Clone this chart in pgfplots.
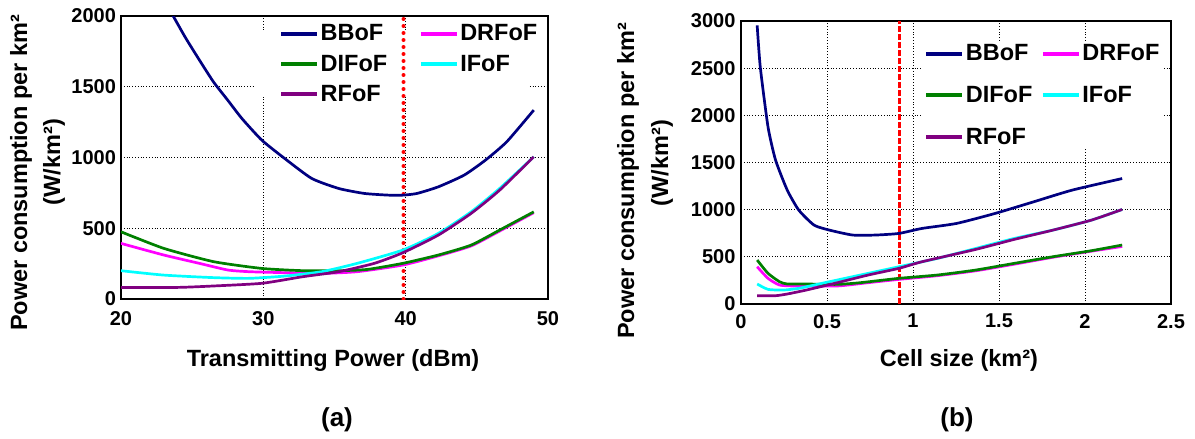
\documentclass[border=0pt]{standalone}
\usepackage{pgfplots}
\pgfplotsset{compat=1.18}
\usepackage{fontspec}
\setmainfont{Liberation Sans}
\definecolor{cBB}{RGB}{0,0,128}
\definecolor{cDR}{RGB}{255,0,255}
\definecolor{cDI}{RGB}{0,128,0}
\definecolor{cIF}{RGB}{0,255,255}
\definecolor{cRF}{RGB}{128,0,128}
\pgfplotsset{
  myaxis/.style={
    scale only axis, anchor=south west,
    axis line style={line width=1.6pt},
    grid=major, grid style={black, line width=0.8pt, dotted},
    major tick length=0pt,
    tick label style={font=\fontsize{20}{22}\selectfont\bfseries},
    /pgf/number format/assume math mode=true,
    /pgf/number format/1000 sep={},
    scaled ticks=false,
    legend columns=2,
    legend cell align=left,
    legend image code/.code={\draw[#1, line width=4pt] (0pt,0pt) -- (36pt,0pt);},
    every axis plot/.append style={line width=2.7pt, smooth, tension=0.35},
  }
}
\begin{document}
\begin{tikzpicture}
\useasboundingbox (0pt,0pt) rectangle (1195pt,-439pt);
% ---------- (a) ----------
\begin{axis}[myaxis, at={(121pt,-299pt)}, width=427pt, height=283pt,
  xmin=20, xmax=50, ymin=0, ymax=2000,
  xtick={20,30,40,50}, ytick={0,500,1000,1500,2000},
  xticklabel style={yshift=-9pt},
  yticklabel style={xshift=-1.5pt},
  legend style={at={(0.363,0.982)}, anchor=north west, draw=none, fill=none,
    font=\fontsize{23.5}{26}\selectfont\bfseries,
    nodes={inner sep=1.5pt}, row sep=9.5pt,
    /tikz/every even column/.append style={column sep=30pt}},
]
\fill[white] (axis cs:29.41,1435) rectangle (axis cs:48.7,1901);
\addplot[red, line width=4pt, line cap=round, dash pattern=on 0pt off 7pt, forget plot, sharp plot] coordinates {(39.85,0) (39.85,2000)};
\addplot[cBB] coordinates {(23.5,2030) (24.5,1852) (25.5,1690) (26.5,1534) (27.5,1405) (28.5,1275) (29.9,1122) (31.5,993) (33.4,852) (35.3,781) (37.1,746) (38.8,734) (39.8,734) (40.8,746) (42.3,793) (44.1,875) (45.6,981) (47.1,1111) (49,1335)};
\addlegendentry{BBoF}
\addplot[cDR] coordinates {(20,393) (23,311) (25.5,252) (27.5,205) (29,193) (31.5,186) (34.1,181) (36.6,193) (39.8,240) (42.3,305) (44.6,375) (46.6,480) (49,610)};
\addlegendentry{DRFoF}
\addplot[cDI] coordinates {(20,475) (23,358) (26.5,264) (29.9,216) (32.8,200) (35.3,200) (37.3,209) (39.8,252) (42.3,311) (44.6,381) (46.6,487) (49,616)};
\addlegendentry{DIFoF}
\addplot[cIF] coordinates {(20,200) (23,169) (26.5,151) (29,146) (31.5,162) (34.1,193) (36.6,252) (39.8,346) (42.3,464) (44.6,616) (46.6,781) (49,1005)};
\addlegendentry{IFoF}
\addplot[cRF] coordinates {(20,82) (24,82) (26.5,92) (29.9,111) (32.8,158) (35.3,193) (37.8,252) (39.8,327) (42.3,452) (44.6,605) (46.6,769) (49,1005)};
\addlegendentry{RFoF}
\end{axis}
% ---------- (b) ----------
\begin{axis}[myaxis, at={(741pt,-304pt)}, width=430pt, height=283pt,
  xmin=0, xmax=2.5, ymin=0, ymax=3000,
  xtick={0,0.5,1,1.5,2,2.5}, ytick={0,500,1000,1500,2000,2500,3000},
  xticklabel style={yshift=-6.5pt},
  yticklabel style={xshift=-2pt},
  legend style={at={(0.419,0.929)}, anchor=north west, draw=none, fill=white,
    font=\fontsize{23.5}{26}\selectfont\bfseries,
    nodes={inner sep=1.5pt}, row sep=21pt,
    /tikz/every even column/.append style={column sep=7pt}},
]
\addplot[red, line width=3.5pt, dash pattern=on 6pt off 2pt, forget plot, sharp plot] coordinates {(0.922,0) (0.922,3000)};
\addplot[cBB] coordinates {(0.094,2954) (0.112,2513) (0.157,1878) (0.201,1525) (0.269,1207) (0.336,995) (0.425,836) (0.515,783) (0.649,731) (0.783,731) (0.918,748) (1.052,801) (1.253,854) (1.477,960) (1.701,1083) (1.925,1207) (2.216,1330)};
\addlegendentry{BBoF}
\addplot[cDR] coordinates {(0.094,395) (0.157,272) (0.224,201) (0.313,191) (0.56,191) (0.739,226) (0.918,261) (1.141,300) (1.365,352) (1.589,422) (1.813,495) (2.037,560) (2.216,610)};
\addlegendentry{DRFoF}
\addplot[cDI] coordinates {(0.094,466) (0.157,325) (0.224,236) (0.269,212) (0.38,212) (0.56,208) (0.694,226) (0.918,272) (1.141,307) (1.365,360) (1.589,431) (1.813,501) (2.037,565) (2.216,625)};
\addlegendentry{DIFoF}
\addplot[cIF] coordinates {(0.094,212) (0.157,155) (0.246,148) (0.336,166) (0.47,219) (0.694,307) (0.918,395) (1.141,483) (1.365,589) (1.589,695) (1.813,783) (2.037,889) (2.216,1002)};
\addlegendentry{IFoF}
\addplot[cRF] coordinates {(0.094,88) (0.201,88) (0.269,106) (0.38,148) (0.56,226) (0.739,307) (0.918,378) (1.052,448) (1.365,579) (1.589,685) (1.813,783) (2.037,889) (2.216,1002)};
\addlegendentry{RFoF}
\end{axis}
% ---------- labels ----------
\node[rotate=90, font=\fontsize{23.5}{26}\selectfont\bfseries] at (21pt,-173pt) {Power consumption per km²};
\node[rotate=90, font=\fontsize{23.5}{26}\selectfont\bfseries] at (54pt,-162pt) {(W/km²)};
\node[rotate=90, font=\fontsize{23.5}{26}\selectfont\bfseries] at (628pt,-181pt) {Power consumption per km²};
\node[rotate=90, font=\fontsize{23.5}{26}\selectfont\bfseries] at (662pt,-163pt) {(W/km²)};
\node[font=\fontsize{23.5}{26}\selectfont\bfseries] at (333pt,-360pt) {Transmitting Power (dBm)};
\node[font=\fontsize{23.5}{26}\selectfont\bfseries] at (959pt,-360pt) {Cell size (km²)};
\node[font=\fontsize{26}{29}\selectfont\bfseries] at (337pt,-420pt) {(a)};
\node[font=\fontsize{26}{29}\selectfont\bfseries] at (957pt,-420pt) {(b)};
\end{tikzpicture}
\end{document}
